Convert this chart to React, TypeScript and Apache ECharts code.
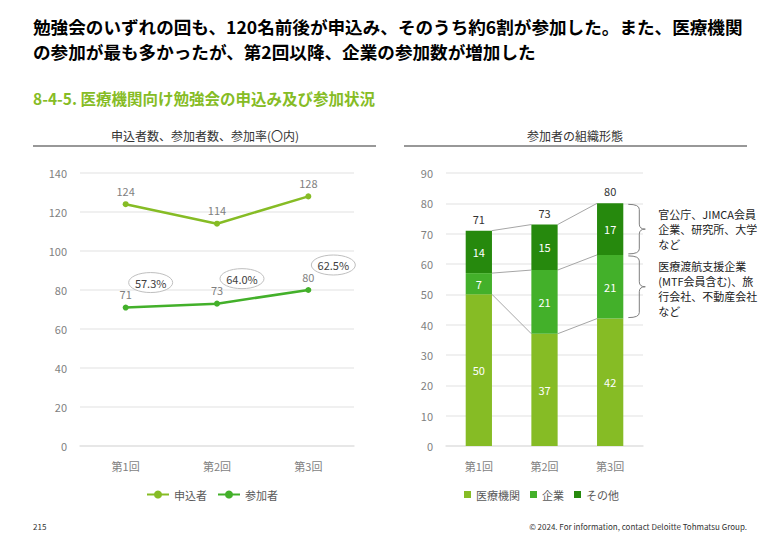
import React, { useEffect, useRef } from "react";
import * as echarts from "echarts";

const sessions = ["第1回", "第2回", "第3回"];
const applicants = [124, 114, 128];
const participants = [71, 73, 80];
const rates = ["57.3%", "64.0%", "62.5%"];
const medical = [50, 37, 42];
const companies = [7, 21, 21];
const others = [14, 15, 17];
const totals = [71, 73, 80];
const braceNotes = [
  ["官公庁、JIMCA会員", "企業、研究所、大学", "など"],
  ["医療渡航支援企業", "(MTF会員含む)、旅", "行会社、不動産会社", "など"],
];

const FONT = "'Noto Sans CJK JP', 'Noto Sans', sans-serif";
const C1 = "#86BC25";
const C2 = "#43B02A";
const C3 = "#26890D";
const GRAY = "#7f7f7f";

function levels(k: number) {
  return [medical[k], medical[k] + companies[k], medical[k] + companies[k] + others[k]];
}

export default function App() {
  const ref = useRef<HTMLDivElement>(null);
  useEffect(() => {
    const chart = echarts.init(ref.current!, null, { renderer: "svg" });
    const txt = (text: string, x: number, y: number, size: number, fill: string, weight = "normal", align = "left") => ({
      type: "text",
      x,
      y,
      style: { text, fontFamily: FONT, fontSize: size, fontWeight: weight, fill, align, verticalAlign: "middle" },
    });
    const option: any = {
      animation: false,
      textStyle: { fontFamily: FONT },
      graphic: [
        txt("勉強会のいずれの回も、120名前後が申込み、そのうち約6割が参加した。また、医療機関", 33, 26, 17.6, "#000", "bold"),
        txt("の参加が最も多かったが、第2回以降、企業の参加数が増加した", 33, 51, 17.6, "#000", "bold"),
        txt("8-4-5. 医療機関向け勉強会の申込み及び参加状況", 33, 98, 15.5, C1, "bold"),
        txt("申込者数、参加者数、参加率(〇内)", 205, 135, 12, "#333", "normal", "center"),
        txt("参加者の組織形態", 575, 135, 12, "#333", "normal", "center"),
        { type: "line", shape: { x1: 33, y1: 146, x2: 376, y2: 146 }, style: { stroke: "#767676", lineWidth: 1.5 } },
        { type: "line", shape: { x1: 404, y1: 146, x2: 747, y2: 146 }, style: { stroke: "#767676", lineWidth: 1.5 } },
        txt("215", 33, 526, 8, "#333"),
        txt("© 2024. For information, contact Deloitte Tohmatsu Group.", 747, 526, 8, "#333", "normal", "right"),
      ],
      grid: [
        { left: 80, right: 426, top: 173, bottom: 94 },
        { left: 446, right: 137, top: 173, bottom: 94 },
      ],
      legend: [
        {
          data: ["申込者", "参加者"],
          left: 141,
          top: 484,
          itemWidth: 22,
          itemHeight: 10,
          itemGap: 10,
          textStyle: { color: "#595959", fontSize: 11, fontFamily: FONT },
        },
        {
          data: ["医療機関", "企業", "その他"],
          left: 459,
          top: 484,
          icon: "rect",
          itemWidth: 7,
          itemHeight: 7,
          itemGap: 10,
          textStyle: { color: "#595959", fontSize: 11, fontFamily: FONT },
        },
      ],
      xAxis: [
        {
          type: "category",
          gridIndex: 0,
          data: sessions,
          axisLine: { lineStyle: { color: "#e3e3e3", width: 1.5 } },
          axisTick: { show: false },
          axisLabel: { color: GRAY, fontSize: 11, margin: 14 },
        },
        {
          type: "category",
          gridIndex: 1,
          data: sessions,
          axisLine: { lineStyle: { color: "#e3e3e3", width: 1.5 } },
          axisTick: { show: false },
          axisLabel: { color: GRAY, fontSize: 11, margin: 14 },
        },
      ],
      yAxis: [
        {
          type: "value",
          gridIndex: 0,
          min: 0,
          max: 140,
          interval: 20,
          axisLabel: { color: GRAY, fontSize: 11, margin: 13 },
          splitLine: { lineStyle: { color: "#ebebeb", width: 1.5 } },
        },
        {
          type: "value",
          gridIndex: 1,
          min: 0,
          max: 90,
          interval: 10,
          axisLabel: { color: GRAY, fontSize: 11, margin: 13 },
          splitLine: { lineStyle: { color: "#ebebeb", width: 1.5 } },
        },
      ],
      series: [
        {
          name: "申込者",
          type: "line",
          xAxisIndex: 0,
          yAxisIndex: 0,
          data: applicants,
          symbol: "circle",
          symbolSize: 6,
          itemStyle: { color: C1 },
          lineStyle: { color: C1, width: 2.5 },
          label: { show: true, position: "top", distance: 5, color: GRAY, fontSize: 11 },
        },
        {
          name: "参加者",
          type: "line",
          xAxisIndex: 0,
          yAxisIndex: 0,
          data: participants,
          symbol: "circle",
          symbolSize: 6,
          itemStyle: { color: C2 },
          lineStyle: { color: C2, width: 2.5 },
          label: { show: true, position: "top", distance: 5, color: GRAY, fontSize: 11 },
        },
        {
          name: "rates",
          type: "custom",
          xAxisIndex: 0,
          yAxisIndex: 0,
          clip: false,
          z: 5,
          data: participants.map((v, i) => [i, v]),
          renderItem: (params: any, api: any) => {
            const i = api.value(0);
            const p = api.coord([i, api.value(1)]);
            const cx = p[0] + 25;
            const cy = p[1] - 25;
            return {
              type: "group",
              children: [
                {
                  type: "ellipse",
                  shape: { cx, cy, rx: 22, ry: 10 },
                  style: { fill: "#fff", stroke: "#bfbfbf", lineWidth: 1 },
                },
                {
                  type: "text",
                  style: {
                    text: rates[i],
                    x: cx,
                    y: cy,
                    align: "center",
                    verticalAlign: "middle",
                    fill: "#404040",
                    fontSize: 11,
                    fontFamily: FONT,
                  },
                },
              ],
            };
          },
        },
        {
          name: "医療機関",
          type: "bar",
          stack: "org",
          xAxisIndex: 1,
          yAxisIndex: 1,
          data: medical,
          barWidth: "40%",
          itemStyle: { color: C1 },
          label: { show: true, position: "inside", color: "#fff", fontSize: 11 },
        },
        {
          name: "企業",
          type: "bar",
          stack: "org",
          xAxisIndex: 1,
          yAxisIndex: 1,
          data: companies,
          barWidth: "40%",
          itemStyle: { color: C2 },
          label: { show: true, position: "inside", color: "#fff", fontSize: 11 },
        },
        {
          name: "その他",
          type: "bar",
          stack: "org",
          xAxisIndex: 1,
          yAxisIndex: 1,
          data: others,
          barWidth: "40%",
          itemStyle: { color: C3 },
          label: { show: true, position: "inside", color: "#fff", fontSize: 11 },
        },
        {
          name: "connectors",
          type: "custom",
          xAxisIndex: 1,
          yAxisIndex: 1,
          clip: false,
          data: [[0, 0], [1, 0]],
          renderItem: (params: any, api: any) => {
            const i = api.value(0);
            const hw = (api.size([1, 0])[0] * 0.4) / 2;
            const a = levels(i);
            const b = levels(i + 1);
            return {
              type: "group",
              children: a.map((v, j) => {
                const p1 = api.coord([i, v]);
                const p2 = api.coord([i + 1, b[j]]);
                return {
                  type: "line",
                  shape: { x1: p1[0] + hw, y1: p1[1], x2: p2[0] - hw, y2: p2[1] },
                  style: { stroke: "#a6a6a6", lineWidth: 1 },
                };
              }),
            };
          },
        },
        {
          name: "totals",
          type: "custom",
          xAxisIndex: 1,
          yAxisIndex: 1,
          clip: false,
          data: totals.map((v, i) => [i, v]),
          renderItem: (params: any, api: any) => {
            const i = api.value(0);
            const p = api.coord([i, api.value(1)]);
            return {
              type: "text",
              style: {
                text: String(totals[i]),
                x: p[0],
                y: p[1] - 12,
                align: "center",
                verticalAlign: "middle",
                fill: "#333",
                fontSize: 11,
                fontFamily: FONT,
              },
            };
          },
        },
        {
          name: "braces",
          type: "custom",
          xAxisIndex: 1,
          yAxisIndex: 1,
          clip: false,
          data: [[2, 0]],
          renderItem: (params: any, api: any) => {
            const i = api.value(0);
            const hw = (api.size([1, 0])[0] * 0.4) / 2;
            const lv = levels(i);
            const ranges = [
              [lv[2], lv[1]],
              [lv[1], lv[0]],
            ];
            const children: any[] = [];
            ranges.forEach((rg, k) => {
              const pt = api.coord([i, rg[0]]);
              const pb = api.coord([i, rg[1]]);
              const x0 = pt[0] + hw + 5;
              const x1 = x0 + 11;
              const tip = x0 + 17;
              const y0 = pt[1] + 1;
              const y1 = pb[1] - 1;
              const ym = (y0 + y1) / 2;
              const r = 5;
              const d = `M${x0},${y0} Q${x1},${y0} ${x1},${y0 + r} L${x1},${ym - r} Q${x1},${ym} ${tip},${ym} Q${x1},${ym} ${x1},${ym + r} L${x1},${y1 - r} Q${x1},${y1} ${x0},${y1}`;
              children.push({
                type: "path",
                shape: { pathData: d },
                style: { fill: "none", stroke: "#7f7f7f", lineWidth: 1 },
              });
              children.push({
                type: "text",
                style: {
                  text: braceNotes[k].join("\n"),
                  x: tip + 13,
                  y: ym + (k === 1 ? 2 : 0),
                  align: "left",
                  verticalAlign: "middle",
                  lineHeight: 15,
                  fill: "#222",
                  fontSize: 11,
                  fontFamily: FONT,
                },
              });
            });
            return { type: "group", children };
          },
        },
      ],
    };
    chart.setOption(option);
    return () => chart.dispose();
  }, []);
  return <div ref={ref} style={{ position: "fixed", left: 0, top: 0, width: 780, height: 540, background: "#fff" }} />;
}
